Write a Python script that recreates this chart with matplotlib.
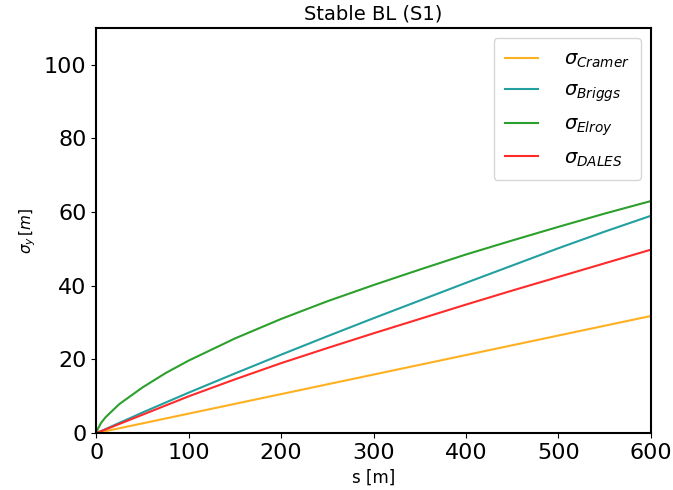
import numpy as np
import matplotlib
matplotlib.use('Agg')
import matplotlib.pyplot as plt

# values (distance s in m, sigma_y in m)
s = [0, 2, 5, 10, 15, 25, 35, 50, 75, 100, 150, 200, 250, 300, 350, 400, 450, 500, 550, 600]
sig_cramer = [0, 0.11, 0.27, 0.53, 0.8, 1.33, 1.86, 2.65, 3.98, 5.3, 7.95, 10.6, 13.25, 15.9, 18.55, 21.2, 23.85, 26.5, 29.15, 31.8]
sig_briggs = [0, 0.22, 0.55, 1.1, 1.65, 2.8, 3.9, 5.6, 8.3, 11.0, 16.2, 21.3, 26.3, 31.2, 36.0, 40.8, 45.5, 50.2, 54.7, 59.0]
sig_elroy = [0, 1.3, 2.7, 4.3, 5.5, 7.9, 9.7, 12.4, 16.3, 19.7, 25.7, 31.0, 35.8, 40.2, 44.4, 48.5, 52.3, 56.0, 59.6, 63.0]
sig_dales = [0, 0.2, 0.5, 1.0, 1.5, 2.5, 3.5, 5.0, 7.5, 10.0, 14.6, 19.0, 23.1, 27.1, 31.0, 34.9, 38.7, 42.4, 46.1, 49.8]

fig, ax = plt.subplots(figsize=(6.73, 4.9), dpi=100)

ax.plot(s, sig_cramer, color='#ffb020', label=r'$\sigma_{Cramer}$')
ax.plot(s, sig_briggs, color='#22a0a0', label=r'$\sigma_{Briggs}$')
ax.plot(s, sig_elroy, color='#2ca02c', label=r'$\sigma_{Elroy}$')
ax.plot(s, sig_dales, color='#ff2a2a', label=r'$\sigma_{DALES}$')

ax.set_xlim(0, 600)
ax.set_ylim(0, 110)
ax.set_title('Stable BL (S1)', fontsize=14)
ax.set_xlabel('s [m]', fontsize=12)
ax.set_ylabel(r'$\sigma_y\,[m]$', fontsize=11)
ax.tick_params(labelsize=16)
for sp in ax.spines.values():
    sp.set_linewidth(1.5)

ax.legend(fontsize=14, handlelength=1.7, labelspacing=0.55, handletextpad=1.3,
          borderpad=0.6, loc='upper right')

fig.subplots_adjust(left=0.143, right=0.967, top=0.943, bottom=0.116)
fig.savefig('out.png', dpi=100)
